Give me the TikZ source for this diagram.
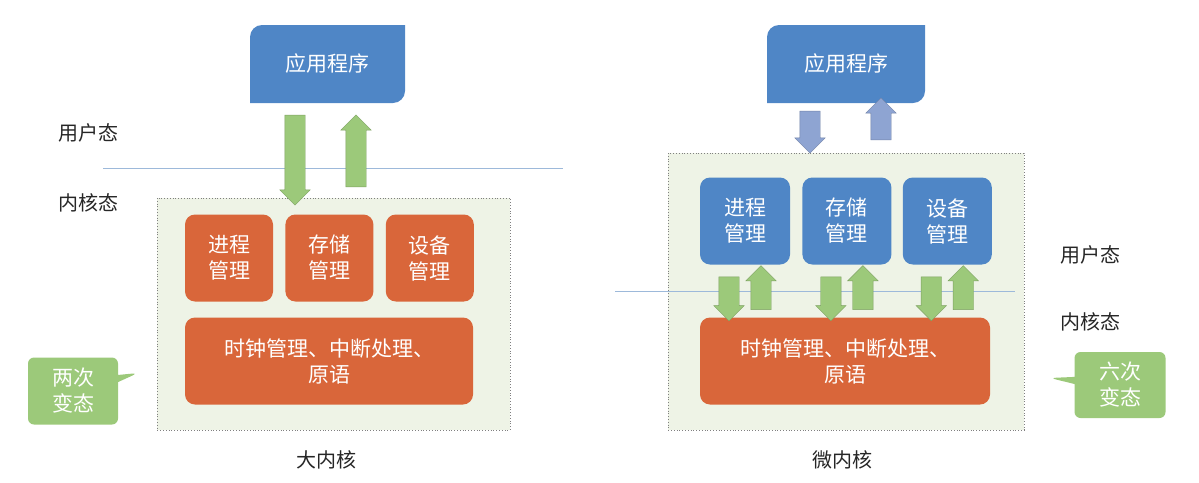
\documentclass[tikz,border=0pt]{standalone}
\usepackage{fontspec}
\setmainfont{Noto Sans CJK SC}
\usetikzlibrary{shapes.arrows, shapes.callouts, positioning}

\definecolor{appblue}{HTML}{4F86C6}
\definecolor{modorange}{HTML}{D9663A}
\definecolor{arrgreen}{HTML}{9CC97A}
\definecolor{arrblue}{HTML}{8EA4D2}
\definecolor{kernbg}{HTML}{EEF3E6}
\definecolor{lineblue}{HTML}{9DB9DA}

\begin{document}
\begin{tikzpicture}[
    x=1pt, y=-1pt,
    mod/.style={rectangle, rounded corners=10pt, fill=#1, text=white, font=\fontsize{21}{26}\selectfont, align=center},
    kernel/.style={draw=gray, dotted, thick, fill=kernbg},
    bigarrow/.style={single arrow, fill=#1, draw=#1!80!black, thin, inner sep=10pt, single arrow head extend=5pt, single arrow tip angle=90},
    mode/.style={font=\fontsize{20}{24}\selectfont, text=black!85},
    bubble/.style={rectangle callout, fill=arrgreen, rounded corners=6pt, text=white, font=\fontsize{21}{26}\selectfont, align=center, minimum width=90pt, minimum height=67pt}
]
\useasboundingbox (0,0) rectangle (1199,482);

% ===== Left: monolithic kernel =====
\fill[kernel] (157,198) rectangle (510,430);
\draw[lineblue, thick] (103,168) -- (563,168);
\node[mode] (user-l) at (88,133) {用户态};
\node[mode] (kern-l) at (88,203) {内核态};

% Application
\fill[appblue] (250,60) [rounded corners=12pt] -- (250,25) [sharp corners] -- (405,25) -- (405,60) [rounded corners=12pt] -- (405,103) [sharp corners] -- (250,103) -- cycle;
\node[text=white, font=\fontsize{21}{26}\selectfont] (app-l) at (327,64) {应用程序};

\node[bigarrow=arrgreen, minimum height=90pt, shape border rotate=270] (down-l) at (295,155) {};
\node[bigarrow=arrgreen, minimum height=72pt, shape border rotate=90] (up-l) at (356,156) {};

% Modules
\node[mod=modorange, minimum width=88pt, minimum height=87pt] (proc-l) at (229,258) {进程\\管理};
\node[mod=modorange, minimum width=88pt, minimum height=87pt, right=12pt of proc-l] (mem-l) {存储\\管理};
\node[mod=modorange, minimum width=88pt, minimum height=87pt, right=12pt of mem-l] (dev-l) {设备\\管理};
\node[mod=modorange, minimum width=288pt, minimum height=87pt] (core-l) at (329,361) {时钟管理、中断处理、\\原语};

\node[bubble, callout absolute pointer={(138,373)}] (note-l) at (73,391) {两次\\变态};
\node[mode] (title-l) at (326,460) {大内核};

% ===== Right: microkernel =====
\fill[kernel] (668,153) rectangle (1024,430);
\draw[lineblue, thick] (615,291) -- (1015,291);
\node[mode] (user-r) at (1090,255) {用户态};
\node[mode] (kern-r) at (1090,322) {内核态};

% Application
\fill[appblue] (767,60) [rounded corners=12pt] -- (767,25) [sharp corners] -- (925,25) -- (925,60) [rounded corners=12pt] -- (925,103) [sharp corners] -- (767,103) -- cycle;
\node[text=white, font=\fontsize{21}{26}\selectfont] (app-r) at (846,64) {应用程序};

\node[bigarrow=arrblue, minimum height=42pt, shape border rotate=270] (down-r) at (810,127) {};
\node[bigarrow=arrblue, minimum height=42pt, shape border rotate=90] (up-r) at (881,124) {};

% Modules
\node[mod=appblue, minimum width=90pt, minimum height=87pt] (proc-r) at (745,221) {进程\\管理};
\node[mod=appblue, minimum width=89pt, minimum height=87pt, right=12pt of proc-r] (mem-r) {存储\\管理};
\node[mod=appblue, minimum width=89pt, minimum height=87pt, right=11pt of mem-r] (dev-r) {设备\\管理};
\node[mod=modorange, minimum width=290pt, minimum height=87pt] (core-r) at (845,361) {时钟管理、中断处理、\\原语};

\foreach \m in {proc-r, mem-r, dev-r} {
  \node[bigarrow=arrgreen, minimum height=44pt, shape border rotate=270] at ([xshift=-16pt,yshift=-29pt]\m.south) {};
  \node[bigarrow=arrgreen, minimum height=44pt, shape border rotate=90] at ([xshift=16pt,yshift=-28pt]\m.south) {};
}

\node[bubble, minimum width=91pt, minimum height=66pt, callout absolute pointer={(1050,378)}] (note-r) at (1120,385) {六次\\变态};
\node[mode] (title-r) at (842,460) {微内核};
\end{tikzpicture}
\end{document}
